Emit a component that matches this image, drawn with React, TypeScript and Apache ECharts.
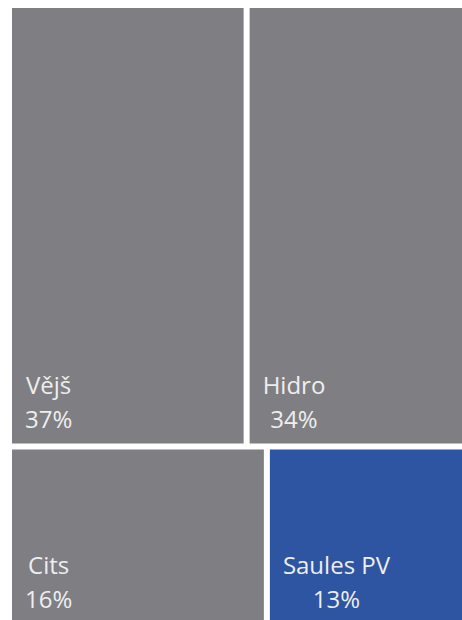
import React, { useEffect, useRef } from "react";
import * as echarts from "echarts";

// Energy source categories and their shares (%), read from the tile areas / labels
const categories = ["Vějš", "Hidro", "Cits", "Saules PV"];
const shares = [37, 34, 16.4, 12.6];
const tileColors = ["#7F7F83", "#7F7F83", "#7F7F83", "#2D55A2"];

const FONT = "Open Sans";
const FONT_SIZE = 24;
const LINE_H = 34;
const PAD_LEFT = 13;
const PAD_BOTTOM = 8;
const TEXT_COLOR = "#EEEEEE";

function measure(text: string): number {
  const ctx = document.createElement("canvas").getContext("2d");
  if (!ctx) return text.length * FONT_SIZE * 0.55;
  ctx.font = `${FONT_SIZE}px "${FONT}"`;
  return ctx.measureText(text).width;
}

function buildOption(heights: Record<string, number> | null) {
  return {
    animation: false,
    series: [
      {
        type: "treemap",
        left: 12,
        top: 8,
        width: 450,
        height: 616,
        roam: false,
        nodeClick: false,
        breadcrumb: { show: false },
        itemStyle: { borderWidth: 0, gapWidth: 6, borderColor: "#ffffff" },
        levels: [
          { itemStyle: { borderWidth: 0, gapWidth: 6, borderColor: "#ffffff" } },
          { itemStyle: { borderWidth: 0 } },
        ],
        label: {
          show: !!heights,
          position: "insideTopLeft",
          distance: 0,
          align: "left",
          verticalAlign: "top",
          overflow: "none",
          fontFamily: FONT,
          fontSize: FONT_SIZE,
          lineHeight: LINE_H,
          color: TEXT_COLOR,
        },
        data: categories.map((name, i) => {
          const pct = `${Math.round(shares[i])}%`;
          const wName = measure(name);
          const wPct = measure(pct);
          const wMax = Math.max(wName, wPct);
          const h = heights ? heights[name] : 0;
          const padTop = Math.max(h - PAD_BOTTOM - 2 * LINE_H, 0);
          const tokenStyle = {
            fontFamily: FONT,
            fontSize: FONT_SIZE,
            lineHeight: LINE_H,
            color: TEXT_COLOR,
            align: "left",
          };
          return {
            name,
            value: shares[i],
            itemStyle: { color: tileColors[i] },
            label: {
              padding: [padTop, 0, PAD_BOTTOM, PAD_LEFT],
              formatter: `{a|${name}}\n{b|${pct}}`,
              rich: {
                a: { ...tokenStyle, padding: [0, 0, 0, (wMax - wName) / 2] },
                b: { ...tokenStyle, padding: [0, 0, 0, (wMax - wPct) / 2] },
              },
            },
          };
        }),
      },
    ],
  };
}

export default function App() {
  const ref = useRef<HTMLDivElement>(null);

  useEffect(() => {
    document.body.style.margin = "0";
    const chart = echarts.init(ref.current!, null, { renderer: "svg" });
    chart.setOption(buildOption(null));
    // read the tile sizes computed by the treemap layout, then place labels at the tile bottoms
    const heights: Record<string, number> = {};
    try {
      const sm = (chart as any).getModel().getSeriesByIndex(0);
      const root = sm.getViewRoot();
      root.children.forEach((n: any) => {
        heights[n.name] = n.getLayout().height;
      });
    } catch (e) {
      categories.forEach((c) => (heights[c] = 0));
    }
    chart.setOption(buildOption(heights));
    return () => chart.dispose();
  }, []);

  return <div ref={ref} style={{ width: 462, height: 620 }} />;
}
